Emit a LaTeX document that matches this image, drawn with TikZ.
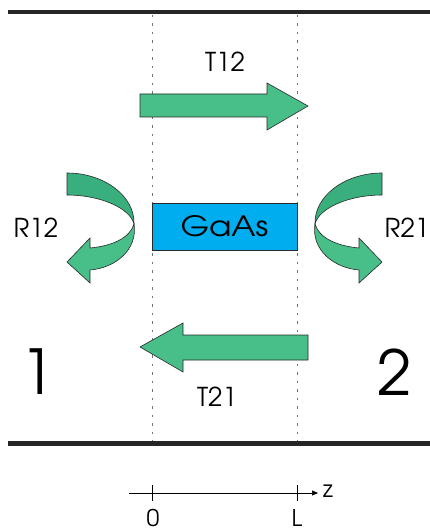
\documentclass[tikz,border=0pt]{standalone}
\usepackage{fontspec}
\setmainfont{TeX Gyre Adventor}
\usetikzlibrary{arrows.meta}
\definecolor{gdark}{RGB}{58,175,126}
\definecolor{glight}{RGB}{72,190,136}
\definecolor{gaasblue}{RGB}{0,174,239}
\definecolor{edge}{RGB}{40,40,40}
\begin{document}
\begin{tikzpicture}[x=1pt,y=-1pt,
  wall/.style={line width=4.5pt,draw=black!85},
  guide/.style={draw=black!55,line width=1pt,dash pattern=on 2.5pt off 6pt},
  greenarrow/.style={fill=glight,draw=edge,line width=0.6pt,line join=miter},
  darkband/.style={fill=gdark,draw=edge,line width=0.6pt},
  lbl/.style={font=\fontsize{26}{26}\selectfont,inner sep=0pt},
  axl/.style={font=\fontsize{23}{23}\selectfont,inner sep=0pt},
  big/.style={font=\fontsize{62}{62}\selectfont,inner sep=0pt}]
\useasboundingbox (0,0) rectangle (430,529);
% walls
\draw[wall] (8,12) -- (431,12);
\draw[wall] (8,443.5) -- (431,443.5);
% guides
\draw[guide] (152,15) -- (152,441);
\draw[guide] (297,15) -- (297,441);
% GaAs
\node[draw=edge,fill=gaasblue,line width=0.8pt,minimum width=145pt,minimum height=47pt,inner sep=0pt,
      font=\fontsize{28}{28}\selectfont] (gaas) at (224.5,226.5) {\scalebox{1.17}[1]{GaAs}};
% T12 arrow
\draw[greenarrow] (140,94) -- (267,94) -- (267,83) -- (308,106) -- (267,130) -- (267,117) -- (140,117) -- cycle;
\node[lbl] (t12) at (225,61.5) {T12};
% T21 arrow
\draw[greenarrow] (308,335) -- (183,335) -- (183,323) -- (140,347) -- (183,372) -- (183,360) -- (308,360) -- cycle;
\node[lbl] (t21) at (217,397) {T21};
% R12 curved arrow
\begin{scope}
  \draw[darkband] (67,173) .. controls (104,173) and (135,196) .. (134,224)
     .. controls (130,208) and (100,195) .. (67,195) -- cycle;
  \draw[greenarrow] (134,224) .. controls (138,250) and (115,268) .. (90,270)
     -- (90,283) -- (67,262) -- (90,238) -- (90,248)
     .. controls (112,246) and (130,238) .. (134,224) -- cycle;
\end{scope}
% R21 curved arrow (mirror)
\begin{scope}[shift={(449,0)},xscale=-1]
  \draw[darkband] (67,173) .. controls (104,173) and (135,196) .. (134,224)
     .. controls (130,208) and (100,195) .. (67,195) -- cycle;
  \draw[greenarrow] (134,224) .. controls (138,250) and (115,268) .. (90,270)
     -- (90,283) -- (67,262) -- (90,238) -- (90,248)
     .. controls (112,246) and (130,238) .. (134,224) -- cycle;
\end{scope}
\node[lbl] (r12) at (36,228) {R12};
\node[lbl,anchor=east] (r21) at (429.5,228) {R21};
% region labels
\node[big] (one) at (38,372) {1};
\node[big] (two) at (395,372) {2};
% axis
\coordinate (ax0) at (129,493);
\coordinate (ax1) at (318,493);
\draw[line width=0.7pt,-{Triangle[length=6pt,width=5pt]}] (ax0) -- (ax1);
\draw[line width=0.7pt] (152,485) -- (152,501);
\draw[line width=0.7pt] (297,485) -- (297,501);
\node[axl] (z) at (328,491.5) {z};
\node[axl] (zero) at (153,517.5) {0};
\node[axl] (ell) at (297,517.5) {L};
\end{tikzpicture}
\end{document}
